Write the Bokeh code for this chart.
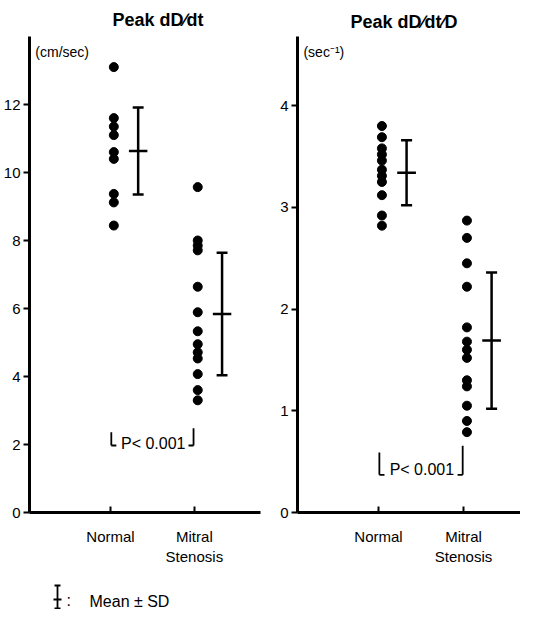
from bokeh.plotting import figure
from bokeh.layouts import row, column
from bokeh.models import FixedTicker, Range1d
from bokeh.embed import file_html
from bokeh.resources import INLINE
from bokeh.core.properties import value

FONT = "Liberation Sans"

# ---- data ----
titles = ["Peak dD\u2215dt", "Peak dD\u2215dt\u2215D"]
units = ["(cm/sec)", "(sec\u207b\u00b9)"]
groups = ["Normal", "Mitral\nStenosis"]
group_pos = [1, 2]

# Peak dD/dt (cm/sec)
rate_normal = [13.1, 11.6, 11.35, 11.1, 10.6, 10.4, 9.37, 9.12, 8.44]
rate_ms = [9.57, 8.0, 7.85, 7.71, 6.64, 5.89, 5.33, 4.95, 4.71, 4.53, 4.07, 3.6, 3.3]
rate_mean = [10.63, 5.84]
rate_sd = [1.28, 1.80]
rate_ticks = [0, 2, 4, 6, 8, 10, 12]

# Peak dD/dt/D (sec^-1)
norm_normal = [3.80, 3.69, 3.58, 3.52, 3.46, 3.37, 3.31, 3.25, 3.12, 2.92, 2.82]
norm_ms = [2.87, 2.70, 2.45, 2.22, 1.82, 1.68, 1.60, 1.52, 1.30, 1.24, 1.05, 0.90, 0.79]
norm_mean = [3.34, 1.69]
norm_sd = [0.32, 0.67]
norm_ticks = [0, 1, 2, 3, 4]

DOT_OFFSET = 0.04
BAR_OFFSET = 0.33
PX_PER_UNIT = 85


def strip(w, h):
    f = figure(width=w, height=h, x_range=Range1d(0, w), y_range=Range1d(0, h),
               output_backend="svg", toolbar_location=None,
               min_border_left=0, min_border_right=0, min_border_top=0, min_border_bottom=0)
    f.axis.visible = False
    f.grid.visible = False
    f.outline_line_color = None
    return f


def panel(unit, normal, ms, mean, sd, ticks, ymax, xstart, xend, bl, br,
          p_y, p_lo, p_hi):
    p = figure(width=bl + int(round((xend - xstart) * PX_PER_UNIT)) + br, height=532,
               x_range=Range1d(xstart, xend), y_range=Range1d(0, ymax),
               output_backend="svg", toolbar_location=None,
               min_border_left=bl, min_border_right=br, min_border_top=1,
               min_border_bottom=50)
    p.outline_line_color = None
    p.grid.visible = False
    p.background_fill_color = "white"

    # dots
    xs = [group_pos[0] + DOT_OFFSET] * len(normal) + [group_pos[1] + DOT_OFFSET] * len(ms)
    ys = list(normal) + list(ms)
    p.scatter(xs, ys, size=9, color="black")

    # mean +- sd bars
    bx = [g + BAR_OFFSET for g in group_pos]
    lo = [m - s for m, s in zip(mean, sd)]
    hi = [m + s for m, s in zip(mean, sd)]
    p.segment(bx, lo, bx, hi, line_width=2.5, color="black")
    p.segment([x - 0.065 for x in bx], hi, [x + 0.065 for x in bx], hi, line_width=2.5, color="black")
    p.segment([x - 0.065 for x in bx], lo, [x + 0.065 for x in bx], lo, line_width=2.5, color="black")
    p.segment([x - 0.11 for x in bx], mean, [x + 0.11 for x in bx], mean, line_width=2.5, color="black")

    # unit label
    p.text([xstart + 0.07], [ymax * 0.985], text=[unit], text_font=value(FONT),
           text_font_size="14px", text_baseline="top", text_align="left", color="black")

    # P annotation
    p.segment([1.01, 1.01, 1.99, 1.99], [p_hi, p_lo, p_hi + (p_hi - p_lo) * 0.3, p_lo],
              [1.01, 1.07, 1.99, 1.93], [p_lo, p_lo, p_lo, p_lo],
              line_width=1.8, color="black")
    p.text([1.51], [p_y], text=["P< 0.001"], text_font=value(FONT), text_font_size="16px",
           text_align="center", text_baseline="middle", color="black")

    # axes
    for ax in (p.xaxis[0], p.yaxis[0]):
        ax.axis_line_width = 3
        ax.axis_line_color = "black"
        ax.major_tick_line_width = 2
        ax.major_tick_line_color = "black"
        ax.minor_tick_line_color = None
        ax.major_label_text_font = FONT
        ax.major_label_text_color = "black"
    p.yaxis.ticker = FixedTicker(ticks=ticks)
    p.yaxis.major_tick_in = 0
    p.yaxis.major_tick_out = 6
    p.yaxis.major_label_text_font_size = "15px"
    p.yaxis.major_label_standoff = 3
    p.xaxis.ticker = FixedTicker(ticks=group_pos)
    p.xaxis.major_label_overrides = {g: lab for g, lab in zip(group_pos, groups)}
    p.xaxis.major_tick_in = 6
    p.xaxis.major_tick_out = 0
    p.xaxis.major_label_text_font_size = "15px"
    p.xaxis.major_label_standoff = 15
    return p


# title strip
head = strip(520, 35)
head.text([112, 350], [16, 14], text=titles, text_font=value(FONT), text_font_style="bold",
          text_font_size="18px", text_baseline="alphabetic", color="black")

p1 = panel(units[0], rate_normal, rate_ms, rate_mean, rate_sd,
           rate_ticks, 14.0, 0.035, 2.788, 26, 4, 2.03, 1.97, 2.36)
p2 = panel(units[1], norm_normal, norm_ms, norm_mean, norm_sd,
           norm_ticks, 4.68, 0.047, 2.67, 33, 0, 0.42, 0.37, 0.59)

# legend strip
p3 = strip(264, 42)
p3.segment([57], [24], [57], [1], line_width=1.8, color="black")
p3.segment([54, 53, 54], [24, 10, 1], [60, 61, 60], [24, 10, 1], line_width=1.8, color="black")
p3.text([66], [9], text=[":"], text_font=value(FONT), text_font_size="16px",
        text_baseline="middle", color="black")
p3.text([89], [8], text=["Mean \u00b1 SD"], text_font=value(FONT), text_font_size="16px",
        text_baseline="middle", color="black")

layout = column(head, row(p1, p2), p3)
open("out.html", "w").write(file_html(layout, INLINE))
